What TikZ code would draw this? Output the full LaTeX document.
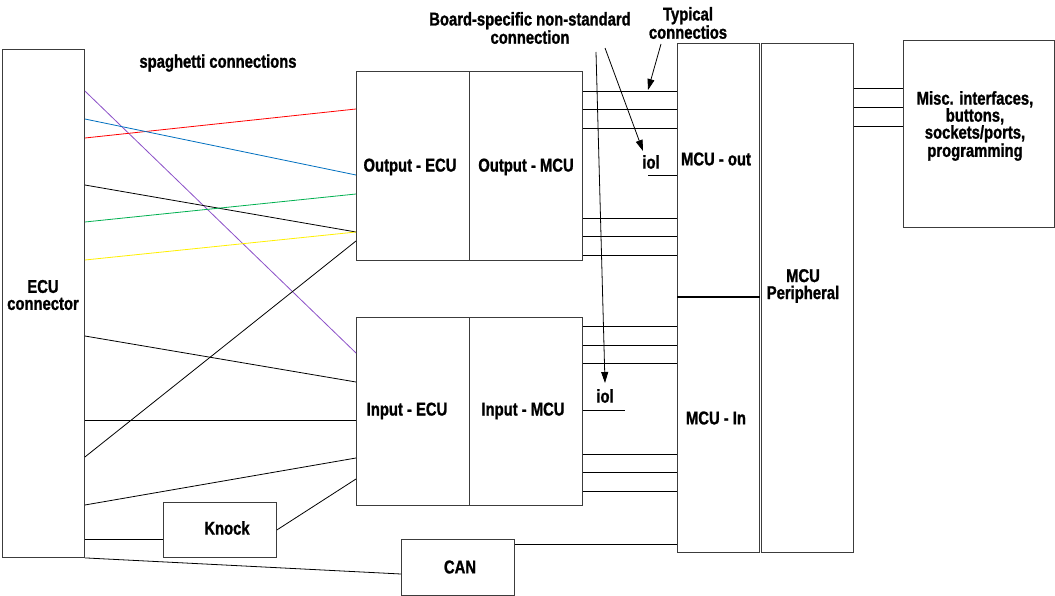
\documentclass[tikz,border=0pt]{standalone}
\usepackage{fontspec}
\newfontfamily\lblfont{Liberation Sans Bold}[FakeStretch=0.8,FakeBold=1.2]
\usetikzlibrary{arrows.meta}
\definecolor{wred}{RGB}{255,0,0}
\definecolor{wblue}{RGB}{0,112,192}
\definecolor{wgreen}{RGB}{0,176,80}
\definecolor{wyellow}{RGB}{255,240,0}
\definecolor{wpurple}{RGB}{140,80,200}
\definecolor{boxline}{RGB}{60,60,60}
\begin{document}
\begin{tikzpicture}[x=1pt,y=-1pt,
  blk/.style={draw=boxline,line width=0.9pt,inner sep=0pt,anchor=north west},
  lbl/.style={font=\lblfont\fontsize{18.5}{17}\selectfont,align=center,inner sep=0pt},
  wire/.style={line width=0.8pt,draw=black},
  cwire/.style={line width=0.8pt},
  arr/.style={line width=0.8pt,-{Triangle[length=11pt,width=7pt]}}]
\useasboundingbox (0,0) rectangle (1055,596);
\fill[white] (0,0) rectangle (1055,596);
% boxes
\node[blk,minimum width=82pt,minimum height=508pt] (ecu) at (2,49) {};
\node[blk,minimum width=113pt,minimum height=189pt] (outE) at (356,71) {};
\node[blk,minimum width=113pt,minimum height=189pt] (outM) at (469,71) {};
\node[blk,minimum width=113pt,minimum height=188pt] (inE) at (356,317) {};
\node[blk,minimum width=113pt,minimum height=188pt] (inM) at (469,317) {};
\node[blk,minimum width=82pt,minimum height=254pt] (mcuO) at (677,43) {};
\node[blk,minimum width=82pt,minimum height=255pt] (mcuI) at (677,297) {};
\node[blk,minimum width=92pt,minimum height=509pt] (per) at (761,43) {};
\node[blk,minimum width=151pt,minimum height=187pt] (misc) at (903,40) {};
\node[blk,minimum width=113pt,minimum height=55pt] (knock) at (163,502) {};
\node[blk,minimum width=113pt,minimum height=56pt] (can) at (401,539) {};
\draw[line width=1.8pt] (mcuI.north west) -- (mcuI.north east);
% labels
\node[lbl] (ecuT) at (43,295) {ECU\\connector};
\node[lbl] (outET) at (410,167) {Output - ECU};
\node[lbl] (outMT) at (526,167) {Output - MCU};
\node[lbl] (inET) at (407,411) {Input - ECU};
\node[lbl] (inMT) at (523,411) {Input - MCU};
\node[lbl] (mcuOT) at (716,159) {MCU - out};
\node[lbl] (mcuIT) at (716,418) {MCU - In};
\node[lbl] (perT) at (803,286) {MCU\\Peripheral};
\node[lbl] (miscT) at (975,126) {Misc. interfaces,\\buttons,\\sockets/ports,\\programming};
\node[lbl] (knockT) at (227,528) {Knock};
\node[lbl] (canT) at (460,567) {CAN};
\node[lbl] (spag) at (218,63) {spaghetti connections};
\node[lbl] (board) at (530,28) {Board-specific non-standard\\connection};
\node[lbl] (typ) at (688,23) {Typical\\connectios};
\node[lbl] (iolA) at (651,162) {iol};
\node[lbl] (iolB) at (605,396) {iol};
% spaghetti
\draw[cwire,wpurple] (ecu.east |- 0,91) -- (inE.west |- 0,353);
\draw[cwire,wred] (ecu.east |- 0,138) -- (outE.west |- 0,109);
\draw[cwire,wblue] (ecu.east |- 0,119) -- (outE.west |- 0,175);
\draw[wire] (ecu.east |- 0,185) -- (outE.west |- 0,232);
\draw[cwire,wgreen] (ecu.east |- 0,222) -- (outE.west |- 0,194);
\draw[cwire,wyellow] (ecu.east |- 0,260) -- (outE.west |- 0,232);
\draw[wire] (ecu.east |- 0,457) -- (outE.west |- 0,241);
\draw[wire] (ecu.east |- 0,336) -- (inE.west |- 0,382);
\draw[wire] (ecu.east |- 0,420) -- (inE.west |- 0,420);
\draw[wire] (ecu.east |- 0,505) -- (inE.west |- 0,458);
\draw[wire] (knock.east) -- (inE.west |- 0,479);
\draw[wire] (ecu.east |- 0,539) -- (knock.west |- 0,539);
\draw[wire] (ecu.south east) -- (can.west |- 0,574);
\draw[wire] (can.east |- 0,544) -- (mcuI.west |- 0,544);
% output to MCU
\foreach \yy in {91,109,128,218,236,255}
  \draw[wire] (outM.east |- 0,\yy) -- (mcuO.west |- 0,\yy);
\foreach \yy in {326,345,363,454,472,491}
  \draw[wire] (inM.east |- 0,\yy) -- (mcuI.west |- 0,\yy);
% misc
\foreach \yy in {88,107,126}
  \draw[wire] (per.east |- 0,\yy) -- (misc.west |- 0,\yy);
% iol
\coordinate (iolAs) at (648,175);
\draw[wire] (iolAs) -- (mcuO.west |- iolAs);
\coordinate (iolBe) at (625,410);
\draw[wire] (inM.east |- iolBe) -- (iolBe);
% arrows
\coordinate (a1) at (596,52);
\coordinate (a1t) at (605,383);
\coordinate (a2) at (605,48);
\coordinate (a2t) at (643,151);
\coordinate (a3) at (661,44);
\coordinate (a3t) at (648,90);
\draw[arr] (a1) -- (a1t);
\draw[arr] (a2) -- (a2t);
\draw[arr] (a3) -- (a3t);
\end{tikzpicture}
\end{document}
